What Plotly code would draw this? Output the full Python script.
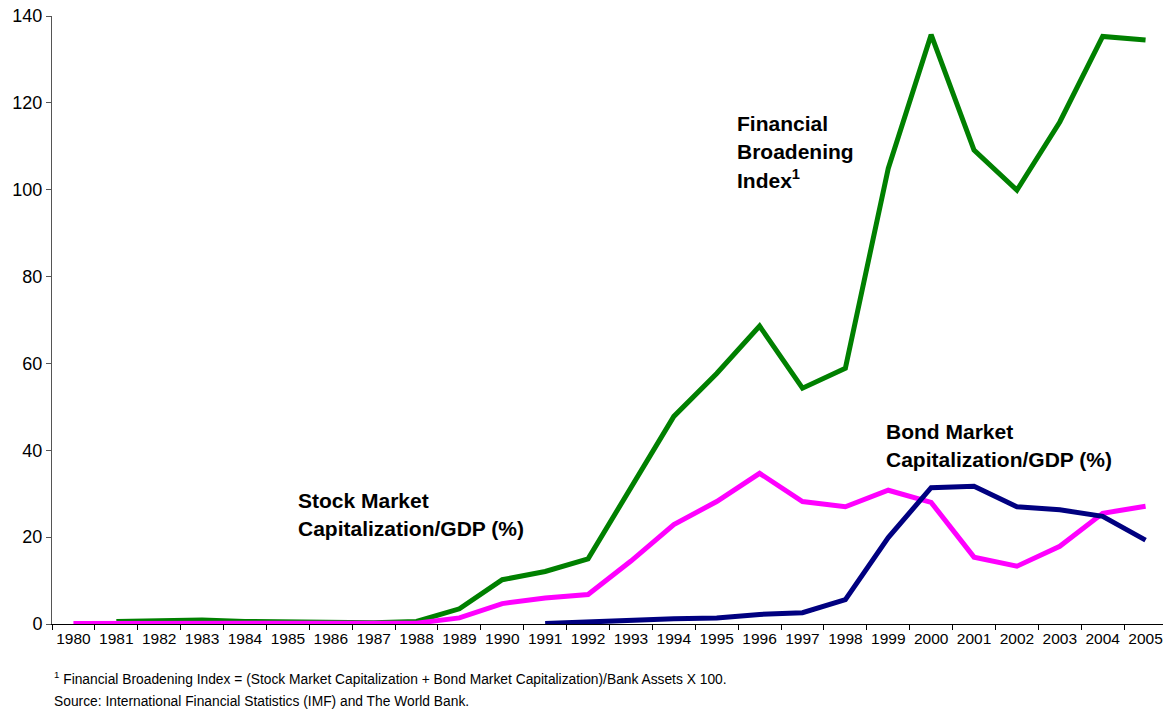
import plotly.graph_objects as go

years = [str(y) for y in range(1980, 2006)]

# Financial Broadening Index (starts 1981)
fbi = [None, 0.6, 0.7, 0.9, 0.6, 0.5, 0.5, 0.3, 0.6, 3.5, 10.2, 12.1, 15.0,
       31.4, 47.8, 57.7, 68.6, 54.3, 58.9, 104.9, 135.7, 109.1, 99.9, 115.6,
       135.3, 134.5]

# Stock market capitalization / GDP (%)
stock = [0.1, 0.1, 0.1, 0.1, 0.1, 0.1, 0.1, 0.1, 0.2, 1.4, 4.7, 6.0, 6.8,
         14.5, 22.9, 28.2, 34.7, 28.2, 27.0, 30.8, 28.0, 15.4, 13.3, 17.9,
         25.5, 27.1]

# Bond market capitalization / GDP (%) (starts 1991)
bond = [None] * 11 + [0.1, 0.5, 1.0, 1.2, 1.4, 2.2, 2.6, 5.6, 19.9, 31.4,
                      31.7, 27.0, 26.3, 24.8, 19.3]

FONT = "Arial, Liberation Sans, sans-serif"

fig = go.Figure()
fig.add_trace(go.Scatter(x=years, y=fbi, mode="lines",
                         line=dict(color="#008000", width=5)))
fig.add_trace(go.Scatter(x=years, y=stock, mode="lines",
                         line=dict(color="#FF00FF", width=5)))
fig.add_trace(go.Scatter(x=years, y=bond, mode="lines",
                         line=dict(color="#000080", width=5)))

# page has an 8px body margin, so the figure is drawn from (8, 8)
OFF = 8
W, H = 1171, 713
# plot area in page pixels: x 52..1167, y 15.5..624.5
L, R, T, B = 52, 1167, 15.5, 624.5


def px(x, y):
    return (x - L) / (R - L), (B - y) / (B - T)


labels = [
    (735, [123, 151, 179], ["Financial", "Broadening", "Index<sup>1</sup>"]),
    (884, [432, 460], ["Bond Market", "Capitalization/GDP (%)"]),
    (296, [501, 529], ["Stock Market", "Capitalization/GDP (%)"]),
]
for x0, ys, lines in labels:
    for y0, txt in zip(ys, lines):
        ax_, ay_ = px(x0, y0)
        fig.add_annotation(x=ax_, y=ay_, xref="paper", yref="paper",
                           text="<b>" + txt + "</b>", showarrow=False,
                           xanchor="left", yanchor="middle",
                           font=dict(family=FONT, size=21, color="black"))

notes = [
    (679, "<sup>1</sup> Financial Broadening Index = (Stock Market Capitalization"
          " + Bond Market Capitalization)/Bank Assets X 100."),
    (702, "Source: International Financial Statistics (IMF) and The World Bank."),
]
for y0, txt in notes:
    ax_, ay_ = px(52, y0)
    fig.add_annotation(x=ax_, y=ay_, xref="paper", yref="paper", text=txt,
                       showarrow=False, xanchor="left", yanchor="middle",
                       font=dict(family=FONT, size=13.8, color="black"))

fig.update_layout(
    width=W - OFF, height=H - OFF,
    margin=dict(l=L - OFF, r=W - R, t=T - OFF, b=H - B, pad=0,
                autoexpand=False),
    paper_bgcolor="white", plot_bgcolor="white",
    showlegend=False,
    font=dict(family=FONT, color="black"),
)
fig.update_xaxes(type="category", range=[-0.5, 25.5], tickson="boundaries",
                 ticks="outside", ticklen=5, tickcolor="black",
                 showline=True, linecolor="black", linewidth=1,
                 showgrid=False, tickfont=dict(size=15.5), tickangle=0,
                 automargin=False)
fig.update_yaxes(range=[0, 140], dtick=20, ticks="outside", ticklen=5,
                 tickcolor="#555555", showline=True, linecolor="#555555",
                 linewidth=1, showgrid=False, zeroline=False,
                 ticklabeloverflow="allow", tickfont=dict(size=18),
                 automargin=False)

fig.write_html("out.html")
